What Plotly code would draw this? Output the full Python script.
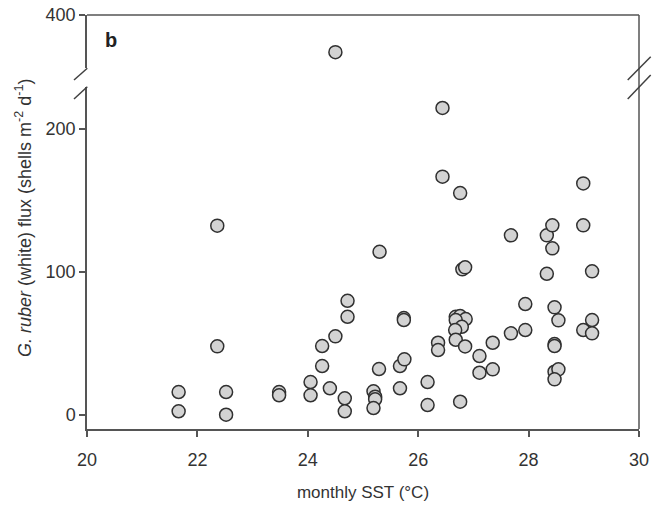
import plotly.graph_objects as go

# Monthly SST (°C) and G. ruber (white) flux (shells m-2 d-1)
sst = [21.66, 21.66, 22.36, 22.36, 22.52, 22.52, 23.48, 23.48,
       24.05, 24.05, 24.26, 24.26, 24.40, 24.50, 24.50, 24.67, 24.67, 24.72, 24.72,
       25.19, 25.22, 25.22, 25.19, 25.29, 25.30, 25.67, 25.67, 25.74, 25.74, 25.75,
       26.17, 26.17, 26.36, 26.36, 26.44, 26.44, 26.76,
       26.68, 26.76, 26.86, 26.68, 26.79, 26.67, 26.68, 26.85, 26.76, 26.80, 26.85,
       27.11, 27.11, 27.35, 27.35, 27.68, 27.68, 27.94, 27.94,
       28.33, 28.33, 28.43, 28.43, 28.47, 28.54, 28.47, 28.47, 28.47, 28.54, 28.47,
       28.99, 28.99, 28.99, 29.15, 29.15, 29.15]
flux = [15.9, 2.4, 132.4, 47.9, 15.9, 0.0, 15.9, 13.6,
        22.9, 13.6, 48.1, 34.1, 18.5, 54.9, 374.0, 11.5, 2.4, 79.8, 68.6,
        16.4, 12.6, 10.8, 4.7, 32.0, 114.1, 34.1, 18.5, 67.7, 66.3, 38.8,
        22.9, 6.8, 50.4, 45.3, 214.8, 166.7, 155.2,
        68.6, 69.1, 67.0, 66.3, 61.6, 59.3, 52.5, 47.8, 9.1, 101.8, 103.2,
        41.1, 29.4, 50.4, 31.8, 125.6, 57.0, 77.5, 59.3,
        125.6, 98.7, 132.6, 116.5, 75.2, 66.1, 49.5, 48.1, 30.1, 31.8, 24.8,
        162.0, 132.6, 59.3, 100.4, 66.3, 57.0]

x_ticks = [20, 22, 24, 26, 28, 30]
y_ticks_low = [0, 100, 200]
y_ticks_high = [400]

BREAK = 300
low_x = [x for x, y in zip(sst, flux) if y < BREAK]
low_y = [y for y in flux if y < BREAK]
high_x = [x for x, y in zip(sst, flux) if y >= BREAK]
high_y = [y for y in flux if y >= BREAK]

marker = dict(size=13, color="#d3d3d3", line=dict(color="#303030", width=1.5))
LINE = "#555555"
TXT = "#333333"
FONT = "Liberation Sans, Arial, sans-serif"

fig = go.Figure()
fig.add_trace(go.Scatter(x=low_x, y=low_y, mode="markers", marker=marker,
                         xaxis="x", yaxis="y", showlegend=False, cliponaxis=False))
fig.add_trace(go.Scatter(x=high_x, y=high_y, mode="markers", marker=marker,
                         xaxis="x", yaxis="y2", showlegend=False, cliponaxis=False))

W, H = 664, 507
L, R, T, B = 87, 25, 15, 78
pw, ph = W - L - R, H - T - B


def px(x):
    return (x - L) / pw


def py(y):
    return (H - B - y) / ph


low_top = py(87)
high_bot = py(68)

fig.update_layout(
    width=W, height=H,
    margin=dict(l=L, r=R, t=T, b=B, autoexpand=False),
    paper_bgcolor="white", plot_bgcolor="white",
    font=dict(family=FONT, color=TXT, size=18),
    xaxis=dict(range=[20, 30], tickvals=x_ticks, ticks="outside", ticklen=6,
               tickwidth=1.5, tickcolor=LINE, showline=True, linecolor=LINE,
               linewidth=1.5, showgrid=False, zeroline=False, anchor="y",
               automargin=False, ticklabelstandoff=8,
               tickfont=dict(size=18, color=TXT),
               title=dict(text="monthly SST (°C)", font=dict(size=17, color=TXT),
                          standoff=17)),
    yaxis=dict(domain=[0, low_top], range=[-10, 229.5], tickvals=y_ticks_low,
               ticks="outside", ticklen=6, tickwidth=1.5, tickcolor=LINE,
               showline=True, linecolor=LINE, linewidth=1.5, showgrid=False,
               zeroline=False, anchor="x", automargin=False,
               tickfont=dict(size=18, color=TXT)),
    yaxis2=dict(domain=[high_bot, 1], range=[362.9, 400], tickvals=y_ticks_high,
                ticks="outside", ticklen=6, tickwidth=1.5, tickcolor=LINE,
                showline=True, linecolor=LINE, linewidth=1.5, showgrid=False,
                zeroline=False, anchor="x", automargin=False,
                tickfont=dict(size=18, color=TXT)),
)

shapes = [
    dict(type="line", xref="paper", yref="paper", x0=0, x1=1, y0=1, y1=1,
         line=dict(color=LINE, width=1.5)),
    dict(type="line", xref="paper", yref="paper", x0=1, x1=1, y0=0, y1=1,
         line=dict(color=LINE, width=1.5)),
]
for (x0, y0, x1, y1) in [(74, 80, 87.3, 68.3), (74, 99, 87.3, 86.7),
                         (627.7, 80, 650.7, 56.7), (627.7, 99, 650.7, 75)]:
    shapes.append(dict(type="line", xref="paper", yref="paper",
                       x0=px(x0), y0=py(y0), x1=px(x1), y1=py(y1),
                       line=dict(color="#404040", width=1.5)))
fig.update_layout(shapes=shapes)

fig.add_annotation(text="<i>G. ruber</i> (white) flux (shells m<sup>-2</sup> d<sup>-1</sup>)",
                   xref="paper", yref="paper", x=px(24), y=py(218),
                   xanchor="center", yanchor="middle", textangle=-90,
                   showarrow=False, font=dict(size=18, color=TXT, family=FONT))
fig.add_annotation(text="<b>b</b>", xref="paper", yref="paper", x=px(111), y=py(40),
                   xanchor="center", yanchor="middle", showarrow=False,
                   font=dict(size=20, color="#222222", family=FONT))

fig.write_html("out.html")
